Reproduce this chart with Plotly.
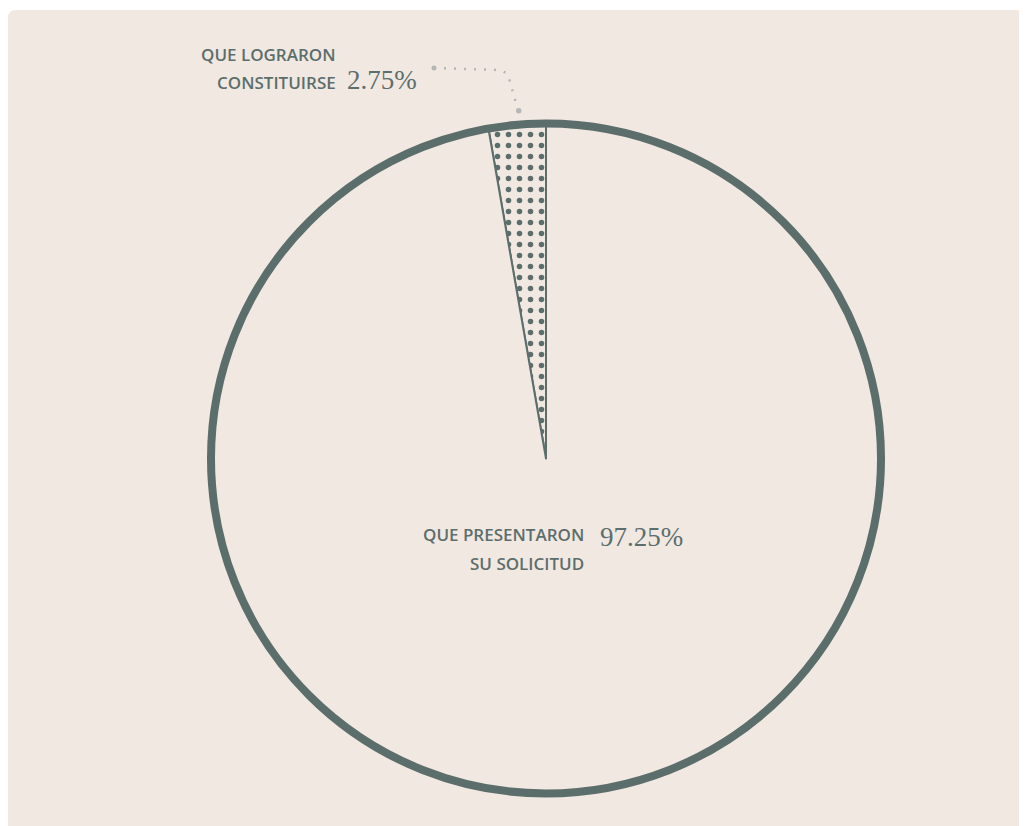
import plotly.graph_objects as go

# data
labels = ["QUE LOGRARON CONSTITUIRSE", "QUE PRESENTARON SU SOLICITUD"]
shares = [2.75, 97.25]
share_text = ["2.75%", "97.25%"]

W, H = 1027, 826
OFF = 8  # page offset of the figure inside the window
PANEL = "#f1e8e2"
INK = "#5c6e6c"
LEADER = "#b4b7b3"


def px(x):
    return (x - OFF) / W


def py(y):
    return 1 - (y - OFF) / H


domain = dict(x=[px(211), px(881)], y=[py(793.5), py(123.5)])

fig = go.Figure()

# slices with thin edges and dotted fill for the small share
# (small slice sits just left of 12 o'clock)
fig.add_trace(
    go.Pie(
        labels=labels,
        values=shares,
        sort=False,
        direction="clockwise",
        rotation=-shares[0] / sum(shares) * 360,
        textinfo="none",
        hoverinfo="label+percent",
        domain=domain,
        marker=dict(
            colors=[PANEL, PANEL],
            line=dict(color=INK, width=2),
            pattern=dict(
                shape=[".", ""],
                fgcolor=INK,
                bgcolor=PANEL,
                size=11,
                solidity=0.2,
            ),
        ),
        showlegend=False,
    )
)

# thick outer ring
fig.add_trace(
    go.Pie(
        labels=["total"],
        values=[sum(shares)],
        textinfo="none",
        hoverinfo="skip",
        domain=domain,
        marker=dict(colors=["rgba(0,0,0,0)"], line=dict(color=INK, width=8)),
        showlegend=False,
    )
)

sans = dict(family="Open Sans", size=17, color=INK, weight=600)
serif = dict(family="Liberation Serif", size=27, color=INK)

annotations = [
    dict(x=px(338), y=py(54), text="QUE LOGRARON", xanchor="right", font=sans),
    dict(x=px(338), y=py(83), text="CONSTITUIRSE", xanchor="right", font=sans),
    dict(x=px(345), y=py(80), text=share_text[0], xanchor="left", font=serif),
    dict(x=px(586), y=py(534), text="QUE PRESENTARON", xanchor="right", font=sans),
    dict(x=px(586), y=py(563), text="SU SOLICITUD", xanchor="right", font=sans),
    dict(x=px(598), y=py(537), text=share_text[1], xanchor="left", font=serif),
]
for a in annotations:
    a.update(xref="paper", yref="paper", showarrow=False, yanchor="middle")

# rounded panel
x0, x1, y0, y1, rx, ry = px(8), px(1024), py(10), py(840), 8 / W, 8 / H
panel_path = (
    f"M {x0 + rx},{y0} L {x1 - rx},{y0} Q {x1},{y0} {x1},{y0 - ry} "
    f"L {x1},{y1} L {x0},{y1} L {x0},{y0 - ry} Q {x0},{y0} {x0 + rx},{y0} Z"
)

shapes = [
    dict(type="path", path=panel_path, xref="paper", yref="paper",
         fillcolor=PANEL, line=dict(width=0), layer="below"),
    # dotted leader from the small share label to its slice
    dict(type="path",
         path=f"M {px(434)},{py(68)} L {px(500)},{py(70)} "
              f"Q {px(508)},{py(72)} {px(510)},{py(82)} L {px(518)},{py(110)}",
         xref="paper", yref="paper",
         line=dict(color=LEADER, width=2.5, dash="2px,8px")),
    dict(type="circle", xref="paper", yref="paper",
         x0=px(431.5), x1=px(436.5), y0=py(70.5), y1=py(65.5),
         fillcolor=LEADER, line=dict(width=0)),
    dict(type="circle", xref="paper", yref="paper",
         x0=px(516), x1=px(521.5), y0=py(113.5), y1=py(108),
         fillcolor=LEADER, line=dict(width=0)),
]

fig.update_layout(
    width=W,
    height=H,
    margin=dict(l=0, r=0, t=0, b=0),
    paper_bgcolor="white",
    plot_bgcolor="white",
    annotations=annotations,
    shapes=shapes,
)

fig.write_html("out.html")
